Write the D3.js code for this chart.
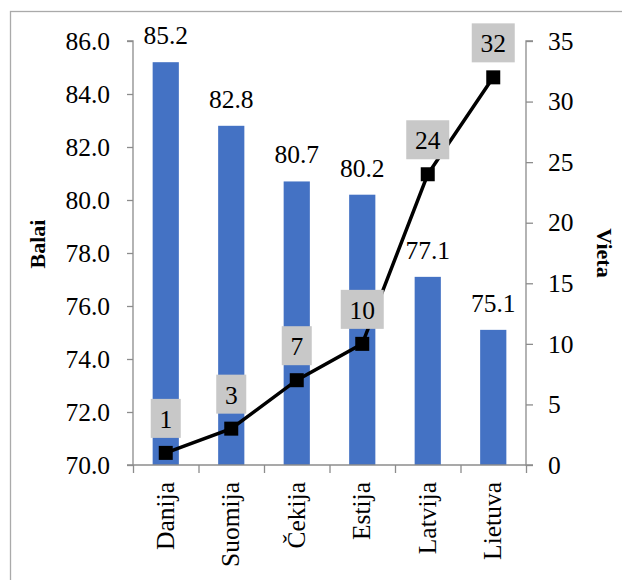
<!DOCTYPE html>
<html><head><meta charset="utf-8">
<script src="https://cdn.jsdelivr.net/npm/d3@7/dist/d3.min.js"></script>
<style>body{margin:0;background:#fff}svg{display:block}</style>
</head><body><svg id="c" width="622" height="580"></svg>
<script>
const categories = ["Danija","Suomija","Čekija","Estija","Latvija","Lietuva"];
const scores = [85.2, 82.8, 80.7, 80.2, 77.1, 75.1];
const ranks = [1, 3, 7, 10, 24, 32];
const leftTicks = [70,72,74,76,78,80,82,84,86];
const rightTicks = [0,5,10,15,20,25,30,35];

const FONT = "Liberation Serif";
const svg = d3.select("#c");
const m = {l:133, r:526, t:41, b:465};
svg.append("rect").attr("x",10.5).attr("y",11.5).attr("width",640).attr("height",600)
  .attr("fill","none").attr("stroke","#aaaaaa").attr("stroke-width",1.3);

const x = d3.scaleBand().domain(categories).range([m.l,m.r]).paddingInner(0.6).paddingOuter(0.3);
const yL = d3.scaleLinear().domain([70,86]).range([m.b,m.t]);
const yR = d3.scaleLinear().domain([0,35]).range([m.b,m.t]);
const fs = 25.5;

svg.selectAll(".bar").data(categories).enter().append("rect")
  .attr("x",d=>x(d)).attr("width",x.bandwidth())
  .attr("y",(d,i)=>yL(scores[i])).attr("height",(d,i)=>m.b-yL(scores[i]))
  .attr("fill","#4472C4");

const axCol = "#8c8c8c";
const gL = svg.append("g").attr("transform",`translate(${m.l},0)`)
  .call(d3.axisLeft(yL).tickValues(leftTicks).tickFormat(d3.format(".1f")).tickSize(6).tickPadding(17));
const gR = svg.append("g").attr("transform",`translate(${m.r},0)`)
  .call(d3.axisRight(yR).tickValues(rightTicks).tickSize(7).tickPadding(15));
const xb = d3.scaleLinear().domain([0,categories.length]).range([m.l,m.r]);
const gB = svg.append("g").attr("transform",`translate(0,${m.b})`)
  .call(d3.axisBottom(xb).tickValues(d3.range(categories.length+1)).tickFormat("").tickSize(8));
[gL,gR,gB].forEach(g=>{
  g.attr("font-family",FONT);
  g.select(".domain").attr("stroke",axCol).attr("stroke-width",1.3);
  g.selectAll(".tick line").attr("stroke",axCol).attr("stroke-width",1.3);
  g.selectAll("text").attr("font-size",fs).attr("fill","#000");
});
gL.select(".domain").attr("d",`M-6,${m.t}H0V${m.b}H-6`);
gR.select(".domain").attr("d",`M7,${m.t}H0V${m.b}H7`);
gB.select(".domain").attr("d",`M${m.l},0H${m.r}`);

const T = sel => sel.attr("font-family",FONT).attr("font-size",fs).attr("fill","#000");

svg.selectAll(".cat").data(categories).enter().append("text")
  .attr("transform",d=>`translate(${x(d)+x.bandwidth()/2+8},${m.b+17}) rotate(-90)`)
  .attr("text-anchor","end").call(T).text(d=>d);

svg.selectAll(".bl").data(categories).enter().append("text")
  .attr("x",d=>x(d)+x.bandwidth()/2).attr("y",(d,i)=>yL(scores[i])-18)
  .attr("text-anchor","middle").call(T).text((d,i)=>scores[i].toFixed(1));

const cx = d=>x(d)+x.bandwidth()/2;
svg.append("path").datum(categories)
  .attr("d",d3.line().x(d=>cx(d)).y((d,i)=>yR(ranks[i])))
  .attr("fill","none").attr("stroke","#000").attr("stroke-width",3.5);
svg.selectAll(".mk").data(categories).enter().append("rect")
  .attr("x",d=>cx(d)-7).attr("y",(d,i)=>yR(ranks[i])-7).attr("width",14).attr("height",14).attr("fill","#000");

categories.forEach((d,i)=>{
  const w = String(ranks[i]).length===1 ? 30 : 43;
  const cy = yR(ranks[i]) - 34.5;
  svg.append("rect").attr("x",cx(d)-w/2).attr("y",cy-19.5).attr("width",w).attr("height",39).attr("fill","#c8c8c8");
  svg.append("text").attr("x",cx(d)).attr("y",cy+9.5).attr("text-anchor","middle").call(T).text(ranks[i]);
});

svg.append("text").attr("transform",`translate(45,244) rotate(-90)`)
  .attr("text-anchor","middle").call(T).attr("font-size",22).attr("font-weight","bold").text("Balai");
svg.append("text").attr("transform",`translate(597,253) rotate(90)`)
  .attr("text-anchor","middle").call(T).attr("font-size",22).attr("font-weight","bold").text("Vieta");
</script></body></html>
